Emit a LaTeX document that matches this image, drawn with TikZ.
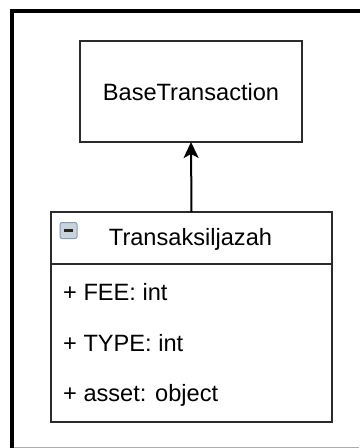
\documentclass[tikz,border=0pt]{standalone}
\usepackage{fontspec}
\setmainfont{Liberation Sans}
\usetikzlibrary{arrows.meta}
\definecolor{edge}{HTML}{2B2B2B}
\definecolor{iconfill}{HTML}{C9D3DE}
\definecolor{iconedge}{HTML}{8A9AAD}
\tikzset{
  every node/.style={font=\fontsize{23.6bp}{28bp}\selectfont, text=black, inner sep=0pt},
  boxshape/.style={draw=edge, line width=2bp, fill=white, rectangle, outer sep=0pt},
  attrtext/.style={anchor=west},
  inherit/.style={draw=black, line width=2bp, -{Stealth[length=16bp, width=15bp, inset=4bp]}},
}
\begin{document}
\begin{tikzpicture}[x=1bp, y=-1bp]
  \useasboundingbox (0,0) rectangle (359,448);
  \fill[white] (0,0) rectangle (359,448);

  % window frame: heavy top and left rules, light bottom rule
  \coordinate (frameTL) at (12,10.8);
  \coordinate (frameBL) at (12,448);
  \coordinate (frameTR) at (359,10.8);
  \coordinate (baseL) at (14,447.3);
  \coordinate (baseR) at (359,447.3);
  \draw[line width=1.6bp, draw=black!32] (baseL) -- (baseR);
  \draw[line width=3.6bp, line cap=rect] (frameBL) -- (frameTL) -- (frameTR);

  % superclass
  \node[boxshape, minimum width=222bp, minimum height=101bp] (base) at (191,91.5) {};
  \node (baseLabel) at (191,92.5) {BaseTransaction};

  % attribute compartment, then the class header over its top edge
  \node[boxshape, minimum width=281bp, minimum height=158bp, anchor=north] (body) at (191.5,264) {};
  \node[boxshape, minimum width=281bp, minimum height=52bp, anchor=south] (cls) at (body.north) {};
  \node (clsLabel) at (190.5,239.5) {Transaksiljazah};

  % collapse icon
  \node[draw=iconedge, line width=1bp, fill=iconfill, rounded corners=2bp,
        minimum width=17bp, minimum height=16bp] (icon) at (68.5,230.5) {};
  \draw[line width=2.2bp, draw=black!85] ([xshift=-4.5bp]icon.center) -- ([xshift=4.5bp]icon.center);

  \node[attrtext] (fee) at (63,292) {+ FEE: int};
  \node[attrtext] (type) at (63,343.5) {+ TYPE: int};
  \node[attrtext] (asset) at (63,395) {+ asset: object};

  % generalisation
  \draw[inherit] (cls.north) -- (base.south);
\end{tikzpicture}
\end{document}
